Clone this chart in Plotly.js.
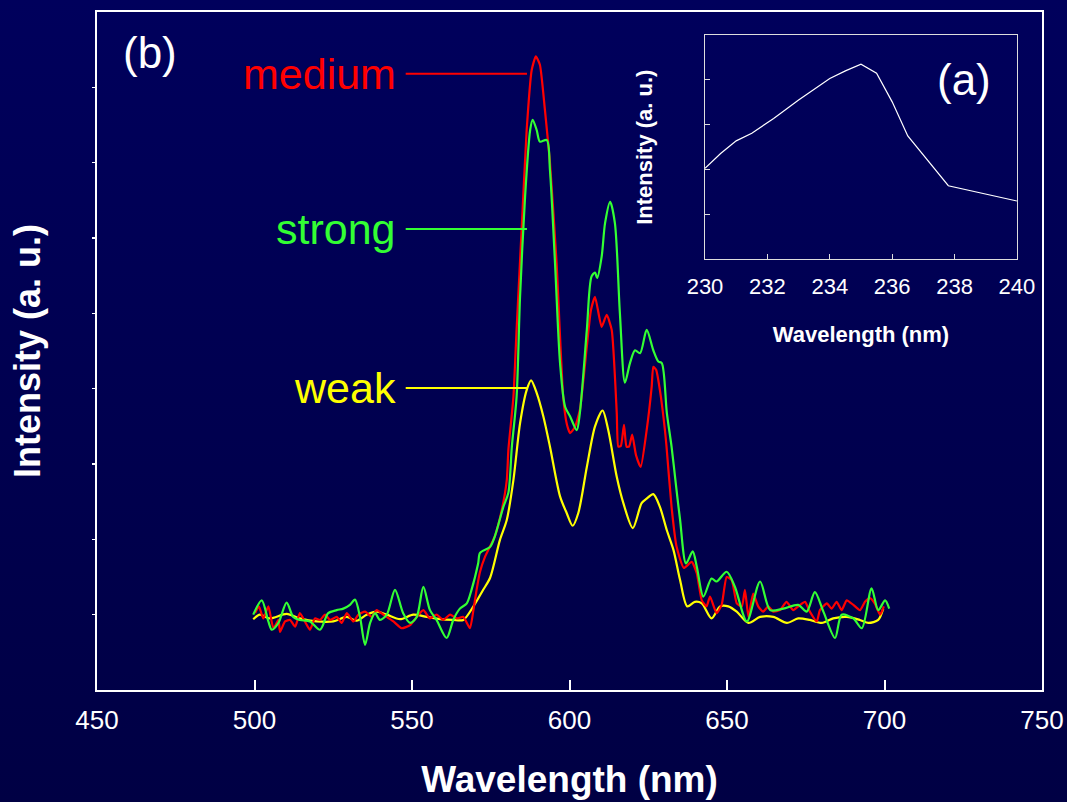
<!DOCTYPE html>
<html><head><meta charset="utf-8">
<script src="https://cdn.plot.ly/plotly-3.0.1.min.js"></script>
<style>
html,body{margin:0;padding:0;width:1067px;height:802px;overflow:hidden;background:linear-gradient(#00005C,#000044);}
#chart{width:1067px;height:802px;}
</style></head><body><div id="chart"></div>
<script>
// Main spectra (b): wavelength (nm) vs intensity (a.u.)
const mediumX = [500.2,501.4,502.8,504.4,506.0,507.6,508.1,509.7,511.3,512.9,514.4,516.0,517.6,519.2,520.8,522.4,524.0,526.1,527.7,529.3,531.4,533.0,535.1,537.2,538.8,540.9,544.1,546.7,549.4,551.5,553.6,555.7,557.8,559.9,562.1,564.2,566.3,568.4,569.5,570.5,571.6,573.2,576.3,578.5,580.1,580.6,582.2,583.2,584.8,586.4,588.0,589.3,590.6,592.2,593.8,595.9,598.0,599.2,600.2,601.7,603.3,605.5,606.8,608.1,610.2,611.8,613.4,615.0,615.5,616.3,617.3,618.1,618.9,619.9,621.1,622.6,624.5,626.1,626.6,627.5,628.7,630.3,630.8,632.4,634.0,636.3,638.8,640.4,642.0,643.5,644.6,646.7,648.3,649.9,651.5,653.1,654.7,655.7,656.8,658.3,659.9,661.5,663.1,664.7,666.8,668.9,671.0,673.2,674.8,676.3,678.5,679.5,681.7,683.2,684.8,686.4,688.0,690.1,692.2,693.8,695.4,696.9,698.6,699.8];
const mediumY = [1.02,1.11,0.95,1.11,0.82,0.93,0.77,0.91,0.93,0.84,1.02,0.91,0.80,0.95,0.93,1.00,0.93,0.97,0.89,1.02,0.91,1.00,1.04,0.97,1.06,1.00,0.91,0.82,0.86,0.97,1.06,0.95,1.00,0.93,1.00,0.95,0.97,0.82,1.06,1.33,1.57,1.77,2.04,2.39,2.79,3.19,3.89,4.78,6.11,7.43,8.23,8.41,8.30,7.70,7.00,5.67,3.89,3.52,3.41,3.49,3.72,4.56,5.04,5.22,4.82,4.98,4.78,3.68,3.23,3.24,3.52,3.23,3.23,3.39,3.12,2.96,3.45,4.03,4.29,4.25,3.98,3.45,3.23,2.43,1.90,1.62,1.70,1.55,1.19,1.11,1.24,1.02,1.13,1.50,1.46,1.15,1.11,1.33,0.97,1.28,1.11,1.04,1.11,1.04,1.06,1.17,1.06,1.13,1.17,1.04,0.91,1.06,1.15,1.08,1.17,1.06,1.19,1.13,1.06,1.17,1.22,1.15,1.00,1.11];

const strongX = [499.6,502.3,504.4,505.5,507.6,510.2,512.3,514.4,517.6,520.8,523.4,526.1,528.2,530.3,531.9,533.5,535.1,536.7,538.3,539.8,542.0,544.6,547.2,549.4,551.5,553.6,555.7,557.8,561.0,563.1,565.2,567.4,568.9,571.0,571.6,574.8,576.3,579.0,580.6,581.7,583.2,584.3,585.9,587.5,588.3,589.6,590.6,592.8,593.8,595.4,597.0,598.6,600.2,602.3,603.3,605.5,607.0,608.1,608.8,610.2,611.3,612.9,614.4,616.0,617.6,619.2,620.8,622.4,624.5,626.6,628.2,629.3,630.9,632.4,633.8,635.1,637.0,639.1,640.4,642.5,645.1,646.7,649.9,652.5,656.3,660.5,663.7,667.9,672.6,675.3,677.9,680.6,684.3,686.4,690.1,692.8,695.9,698.0,700.2,701.5];
const strongY = [1.00,1.19,0.91,0.80,0.89,1.16,0.97,0.93,0.91,0.80,1.02,1.06,1.08,1.13,1.20,0.97,0.60,0.89,1.02,0.93,1.00,1.33,1.02,0.89,0.97,1.37,1.06,0.93,0.69,0.93,1.08,1.15,1.33,1.68,1.82,1.90,2.04,2.43,2.62,3.23,3.89,5.22,6.55,7.43,7.57,7.43,7.28,7.30,6.90,5.67,4.34,3.76,3.63,3.45,3.68,4.78,5.49,5.54,5.47,5.75,6.20,6.48,6.20,5.00,4.08,4.34,4.51,4.47,4.78,4.51,4.36,4.34,3.68,3.23,2.72,2.26,1.68,1.84,1.64,1.24,1.48,1.44,1.57,1.37,0.91,1.44,1.06,1.08,1.13,1.04,1.30,1.04,0.69,1.00,0.95,0.82,1.35,1.06,1.19,1.08];

const weakX = [499.6,501.7,504.9,510.2,514.4,519.7,525.0,529.3,532.4,535.6,538.8,542.0,546.2,550.4,554.7,558.9,563.1,566.3,569.5,572.6,574.8,577.9,580.1,582.2,584.3,586.4,587.8,589.6,591.7,593.8,597.0,599.1,601.0,602.8,605.5,608.1,610.5,612.3,615.0,617.1,620.1,622.9,624.5,626.6,628.7,630.9,633.0,635.1,637.4,639.8,642.0,645.1,647.8,650.4,653.1,656.8,660.5,664.7,669.0,672.6,676.3,680.1,683.7,688.0,692.2,694.9,698.0,699.6];
const weakY = [0.94,1.00,0.95,1.01,0.95,0.91,0.91,0.97,0.92,1.00,1.04,1.00,0.94,1.00,0.97,0.94,0.93,0.93,1.11,1.33,1.49,1.99,2.26,2.79,3.54,3.98,4.11,3.94,3.63,3.23,2.57,2.35,2.18,2.35,2.96,3.50,3.71,3.45,2.83,2.48,2.15,2.48,2.54,2.60,2.43,2.12,1.86,1.46,1.11,1.17,1.15,0.95,1.11,1.11,1.04,0.89,0.97,0.97,0.89,0.95,0.93,0.89,0.95,0.97,0.93,0.89,0.93,1.08];

// Inset (a): excitation spectrum
const insetX = [230.0,230.5,231.0,231.5,232.2,233.0,234.0,234.5,235.0,235.5,236.0,236.5,237.8,240.0];
const insetY = [2.03,2.36,2.64,2.81,3.14,3.55,4.03,4.20,4.35,4.15,3.51,2.75,1.64,1.30];

const xTicks = [450,500,550,600,650,700,750];
const insetTicks = [230,232,234,236,238,240];

const seriesNames = ['medium','strong','weak'];
const seriesColors = ['#FF0000','#33FF33','#FFFF00'];
const labelY = [8.18,6.12,4.01];

const F = 'Arial, "Liberation Sans", sans-serif';

const traces = [
  {x: weakX, y: weakY, name: 'weak', type:'scatter', mode:'lines', line:{color:seriesColors[2], width:2.2, shape:'spline', smoothing:0.8}},
  {x: mediumX, y: mediumY, name: 'medium', type:'scatter', mode:'lines', line:{color:seriesColors[0], width:2.2, shape:'spline', smoothing:0.5}},
  {x: strongX, y: strongY, name: 'strong', type:'scatter', mode:'lines', line:{color:seriesColors[1], width:2.2, shape:'spline', smoothing:0.8}},
  {x: insetX, y: insetY, name: 'excitation', type:'scatter', mode:'lines', xaxis:'x2', yaxis:'y2', line:{color:'#FFFFFF', width:1.2}}
];

const annotations = [];
const shapes = [];
seriesNames.forEach((n,i)=>{
  annotations.push({x:545.6, y:labelY[i], xref:'x', yref:'y', text:n, showarrow:false, xanchor:'right', yanchor:'middle', font:{family:F, size:43, color:seriesColors[i]}});
  shapes.push({type:'line', xref:'x', yref:'y', x0:548, x1:586.5, y0:labelY[i], y1:labelY[i], line:{color:seriesColors[i], width:2}});
});
annotations.push({x:0.025, y:0.98, xref:'paper', yref:'paper', text:'(b)', showarrow:false, xanchor:'left', yanchor:'top', font:{family:F, size:44, color:'#FFFFFF'}});
annotations.push({x:238.31, y:4.0, xref:'x2', yref:'y2', text:'(a)', showarrow:false, xanchor:'center', yanchor:'middle', font:{family:F, size:44, color:'#FFFFFF'}});

const layout = {
  width:1067, height:802,
  margin:{l:97, r:25, t:12, b:112},
  paper_bgcolor:'rgba(0,0,0,0)', plot_bgcolor:'rgba(0,0,0,0)',
  showlegend:false,
  font:{family:F, color:'#FFFFFF'},
  xaxis:{range:[450,750], tickvals:xTicks, ticks:'inside', ticklen:10, tickwidth:2, tickcolor:'#FFFFFF',
         showline:true, mirror:true, linecolor:'#FFFFFF', linewidth:2, showgrid:false, zeroline:false,
         tickfont:{family:F, size:26, color:'#FFFFFF'}, ticklabelstandoff:6,
         title:{text:'<b>Wavelength (nm)</b>', font:{family:F, size:37, color:'#FFFFFF'}, standoff:32}},
  yaxis:{range:[0,9], tickvals:[1,2,3,4,5,6,7,8], showticklabels:false, ticks:'outside', ticklen:3, tickwidth:1.5, tickcolor:'#FFFFFF',
         showline:true, mirror:true, linecolor:'#FFFFFF', linewidth:2, showgrid:false, zeroline:false,
         title:{text:'<b>Intensity (a. u.)</b>', font:{family:F, size:36, color:'#FFFFFF'}, standoff:40}},
  xaxis2:{domain:[0.6434,0.9735], anchor:'y2', range:[230,240], tickvals:insetTicks, ticks:'inside', ticklen:5, tickcolor:'#DDDDDD',
          showline:true, mirror:true, linecolor:'#DDDDDD', linewidth:1, showgrid:false, zeroline:false,
          tickfont:{family:F, size:22, color:'#FFFFFF'}, ticklabelstandoff:7,
          title:{text:'<b>Wavelength (nm)</b>', font:{family:F, size:22, color:'#FFFFFF'}, standoff:28}},
  yaxis2:{domain:[0.6352,0.9661], anchor:'x2', range:[0,5], tickvals:[1,2,3,4], showticklabels:false, ticks:'inside', ticklen:5, tickcolor:'#DDDDDD',
          showline:true, mirror:true, linecolor:'#DDDDDD', linewidth:1, showgrid:false, zeroline:false,
          title:{text:'<b>Intensity (a. u.)</b>', font:{family:F, size:22, color:'#FFFFFF'}, standoff:45}},
  annotations: annotations,
  shapes: shapes
};

Plotly.newPlot('chart', traces, layout, {displayModeBar:false, staticPlot:true});
</script></body></html>
